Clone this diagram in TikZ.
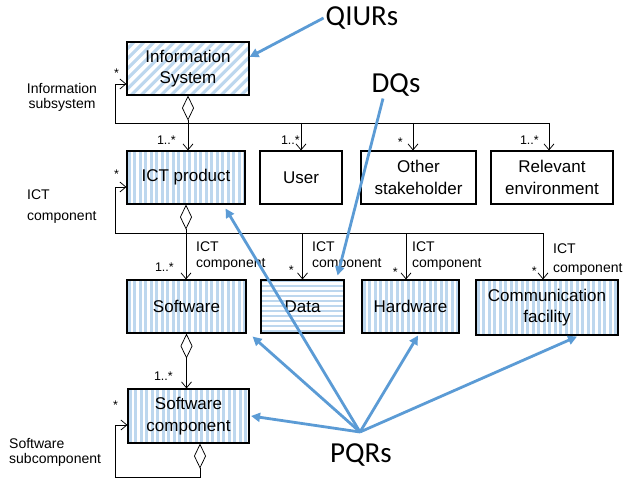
\documentclass[tikz,border=0pt]{standalone}
\usepackage{fontspec}
\setmainfont{Liberation Sans}
\newfontfamily\calfont{Carlito}
\usetikzlibrary{arrows.meta,backgrounds}
\definecolor{stripeblue}{RGB}{189,215,238}
\definecolor{calloutblue}{RGB}{91,155,213}

% stripe fillings, clipped to a named box
\newcommand\vstripesin[1]{%
  \begin{scope}
    \clip (#1.south west) rectangle (#1.north east);
    \foreach \k in {0,...,27}{\fill[stripeblue] (#1.south west) ++(\k*5.5pt+1.5pt,-2pt) rectangle ++(2.8pt,64pt);}
  \end{scope}}
\newcommand\hstripesin[1]{%
  \begin{scope}
    \clip (#1.south west) rectangle (#1.north east);
    \foreach \k in {0,...,11}{\fill[stripeblue] (#1.south west) ++(-2pt,\k*5pt+1.2pt) rectangle ++(200pt,2.6pt);}
  \end{scope}}
\newcommand\dstripesin[1]{%
  \begin{scope}
    \clip (#1.south west) rectangle (#1.north east);
    \foreach \k in {-8,...,14}{\fill[stripeblue] (#1.south west) ++(\k*10pt,-2pt) -- ++(4.5pt,0pt) -- ++(70pt,70pt) -- ++(-4.5pt,0pt) -- cycle;}
  \end{scope}}

\begin{document}
\begin{tikzpicture}[x=1pt,y=-1pt,
  box/.style={draw, line width=1.1pt, align=center, inner sep=0pt,
    minimum height=53pt, font=\fontsize{17}{21.5}\selectfont},
  thin/.style={line width=0.75pt},
  uml/.style={thin, -{Straight Barb[length=6pt,width=10pt]}},
  agg/.style={thin, {Diamond[open,length=25pt,width=12pt]}-{Straight Barb[length=6pt,width=10pt]}},
  mult/.style={font=\fontsize{12.5}{14}\selectfont, inner sep=0pt},
  role/.style={font=\fontsize{14}{15.5}\selectfont, inner sep=0pt, align=left},
  callout/.style={draw=calloutblue, line width=2.8pt, -{Triangle[length=9pt,width=9pt]}},
  calltext/.style={font=\calfont\fontsize{29}{30}\selectfont, inner sep=2pt}
]
\useasboundingbox (0,0) rectangle (636,478);

% classes
\node[box, minimum width=122pt] (info) at (188,68.5) {Information\\System};
\node[box, minimum width=118pt] (ict) at (186,177.5) {ICT product};
\node[box, minimum width=82pt] (user) at (301,177.5) {User};
\node[box, minimum width=115pt] (other) at (418.5,177.5) {Other\\stakeholder};
\node[box, minimum width=122pt] (env) at (552,177.5) {Relevant\\environment};
\node[box, minimum width=119pt] (sw) at (186.5,306.5) {Software};
\node[box, minimum width=83pt] (data) at (302.5,306.5) {Data};
\node[box, minimum width=97pt] (hw) at (410.5,306.5) {Hardware};
\node[box, minimum width=142pt, minimum height=55pt] (comm) at (547,307.5) {Communication\\facility};
\node[box, minimum width=121pt, minimum height=54pt] (swc) at (188.5,416) {Software\\component};

\begin{scope}[on background layer]
  \dstripesin{info}
  \vstripesin{ict}
  \vstripesin{sw}
  \hstripesin{data}
  \vstripesin{hw}
  \vstripesin{comm}
  \vstripesin{swc}
\end{scope}

% junction points
\coordinate (otherin) at ([xshift=-5.5pt]other.north);
\coordinate (envin) at ([xshift=-3pt]env.north);
\coordinate (hwin) at ([xshift=-4.5pt]hw.north);
\coordinate (commin) at ([xshift=-4pt]comm.north);
\coordinate (j1a) at (115,123);
\coordinate (j1b) at (envin |- j1a);
\coordinate (j2a) at (115,233);
\coordinate (j2b) at (commin |- j2a);
\coordinate (swcout) at ([xshift=11.5pt]swc.south);
\coordinate (swcbase) at (115,477);
\coordinate (hub) at (360,432);

% information system associations
\draw[agg] (info.south) -- (info.south |- ict.north);
\draw[thin] (j1a) -- (j1b);
\draw[uml] (j1a) |- ([yshift=-15.5pt]info.west);
\draw[uml] (user.north |- j1a) -- (user.north);
\draw[uml] (otherin |- j1a) -- (otherin);
\draw[uml] (j1b) -- (envin);

% ICT product composition
\draw[agg] (ict.south) -- (ict.south |- sw.north);
\draw[thin] (j2a) -- (j2b);
\draw[uml] (j2a) |- ([yshift=-9.5pt]ict.west);
\draw[uml] (data.north |- j2a) -- (data.north);
\draw[uml] (hwin |- j2a) -- (hwin);
\draw[uml] (j2b) -- (commin);

% software composition
\draw[agg] (sw.south) -- (sw.south |- swc.north);
\draw[agg] (swcout) |- (swcbase) |- ([yshift=-9pt]swc.west);

% multiplicities
\node[mult, anchor=base] (m0) at (116.5,77.5) {*};
\node[mult, anchor=base east] (m1) at (176,145) {1..*};
\node[mult, anchor=base east] (m2) at (300,145) {1..*};
\node[mult, anchor=base east] (m3) at (403,147) {*};
\node[mult, anchor=base east] (m4) at (539,145) {1..*};
\node[mult, anchor=base] (m5) at (116.5,179) {*};
\node[mult, anchor=base east] (m6) at (174,271) {1..*};
\node[mult, anchor=base east] (m7) at (294,274) {*};
\node[mult, anchor=base east] (m8) at (398,276) {*};
\node[mult, anchor=base east] (m9) at (537,275) {*};
\node[mult, anchor=base east] (m10) at (173,380) {1..*};
\node[mult, anchor=base] (m11) at (115.5,409.5) {*};

% role names
\node[role, align=center, anchor=north] (l1) at (62,83) {Information\\subsystem};
\node[role, anchor=north west] (l2) at (27,190) {ICT\\[5.5pt]component};
\node[role, anchor=north west] (l3) at (9,438) {Software\\subcomponent};
\node[role, anchor=north west] (r1) at (196,242) {ICT\\component};
\node[role, anchor=north west] (r2) at (312,242) {ICT\\component};
\node[role, anchor=north west] (r3) at (412,242) {ICT\\component};
\node[role, anchor=north west] (r4) at (553,244) {ICT\\[3pt]component};

% requirement call-outs
\node[calltext] (qiurs) at (362,18) {QIURs};
\node[calltext] (dqs) at (396,85) {DQs};
\node[calltext] (pqrs) at (361,455) {PQRs};

\draw[callout] (qiurs.west) -- ([yshift=11.5pt]info.east);
\draw[callout] ([xshift=-13pt]dqs.south) -- ([xshift=-7pt,yshift=4pt]data.north east);
\draw[callout] (hub) -- ([xshift=-20pt,yshift=-4pt]ict.south east);
\draw[callout] (hub) -- ([xshift=6pt,yshift=-3pt]sw.south east);
\draw[callout] (hub) -- ([xshift=1.5pt]swc.east);
\draw[callout] (hub) -- ([xshift=7.5pt,yshift=-2pt]hw.south);
\draw[callout] (hub) -- ([xshift=30pt,yshift=-1pt]comm.south);
\end{tikzpicture}
\end{document}
